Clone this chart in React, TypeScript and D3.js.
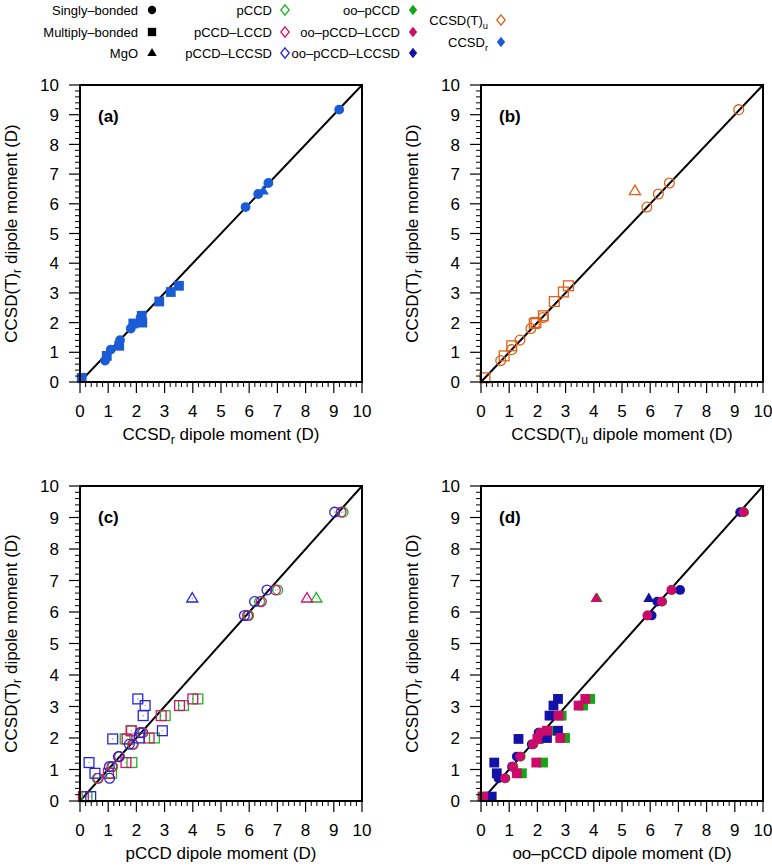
import React from "react";
import * as d3 from "d3";

// Reference CCSD(T)_r dipole moments (D), y values shared by all panels
const refSingly = [0.72, 1.09, 1.41, 1.8, 2.17, 5.89, 6.33, 6.7, 9.17];
const refMulti = [0.14, 0.88, 1.22, 1.97, 2.0, 2.23, 2.71, 3.03, 3.24];
const refMgO = [6.43];

// (a) CCSD_r
const ccsdRSingly = [0.89, 1.09, 1.42, 1.8, 2.15, 5.87, 6.32, 6.68, 9.19];
const ccsdRMulti = [0.06, 0.95, 1.39, 1.89, 2.21, 2.19, 2.81, 3.22, 3.51];
const ccsdRMgO = [6.5];

// (b) CCSD(T)_u
const ccsdtUSingly = [0.7, 1.09, 1.38, 1.77, 2.2, 5.88, 6.29, 6.68, 9.14];
const ccsdtUMulti = [0.14, 0.82, 1.09, 1.89, 1.95, 2.21, 2.6, 2.92, 3.1];
const ccsdtUMgO = [5.46];

// (c) pCCD family
const pccdSingly = [0.61, 1.16, 1.4, 1.86, 2.18, 5.98, 6.37, 7.01, 9.33];
const pccdMulti = [0.25, 1.12, 1.84, 1.6, 2.64, 1.83, 3.02, 3.67, 4.18];
const pccdMgO = [8.38];
const lccdSingly = [0.65, 1.13, 1.39, 1.89, 2.23, 5.94, 6.43, 6.93, 9.26];
const lccdMulti = [0.12, 1.01, 1.63, 1.67, 2.45, 1.81, 2.88, 3.53, 4.0];
const lccdMgO = [8.05];
const lccsdSingly = [1.05, 1.04, 1.36, 1.75, 2.13, 5.83, 6.19, 6.63, 9.03];
const lccsdMulti = [0.38, 0.53, 0.32, 1.16, 2.1, 2.92, 2.24, 2.31, 2.05];
const lccsdMgO = [3.98];

// (d) oo-pCCD family
const ooPccdSingly = [0.87, 1.15, 1.41, 1.86, 2.12, 5.92, 6.43, 6.77, 9.33];
const ooPccdMulti = [0.05, 1.45, 2.2, 2.05, 2.98, 2.4, 2.86, 3.62, 3.87];
const ooPccdMgO = [4.12];
const ooLccdSingly = [0.85, 1.13, 1.39, 1.84, 2.1, 5.9, 6.41, 6.75, 9.31];
const ooLccdMulti = [0.08, 1.27, 1.96, 2.0, 2.81, 2.34, 2.75, 3.46, 3.7];
const ooLccdMgO = [4.08];
const ooLccsdSingly = [0.62, 1.1, 1.27, 1.8, 2.04, 6.05, 6.25, 7.06, 9.19];
const ooLccsdMulti = [0.38, 0.56, 0.47, 1.33, 2.34, 2.73, 2.43, 2.57, 2.73];
const ooLccsdMgO = [5.95];

const tickValues = [0, 1, 2, 3, 4, 5, 6, 7, 8, 9, 10];

const C = {
  ccsdR: "#1c5bd6",
  ccsdtU: "#e0601a",
  green: "#22b322",
  pink: "#d1146c",
  blue: "#2626d6",
  ooGreen: "#12a812",
  ooPink: "#cc0a6a",
  navy: "#1212a6",
};

const FONT = "'Liberation Sans', Arial, Helvetica, sans-serif";
const TICK_FS = 17;
const TITLE_FS = 17;
const LEGEND_FS = 13;

type Shape = "circle" | "square" | "triangle" | "diamond";

function Marker({ shape, x, y, color, filled, s = 1, dot = false }: { shape: Shape; x: number; y: number; color: string; filled: boolean; s?: number; dot?: boolean }) {
  const fill = filled ? color : "none";
  const sw = filled ? 0 : 1.3;
  let el: React.ReactNode;
  if (shape === "circle") el = <circle cx={x} cy={y} r={4.9 * s} fill={fill} stroke={color} strokeWidth={sw} />;
  else if (shape === "square") {
    const h = 4.9 * s;
    el = <rect x={x - h} y={y - h} width={2 * h} height={2 * h} fill={fill} stroke={color} strokeWidth={sw} />;
  } else if (shape === "triangle") {
    const r = 5.9 * s;
    const pts = [
      [x, y - r],
      [x + r * 0.94, y + r * 0.6],
      [x - r * 0.94, y + r * 0.6],
    ];
    el = <polygon points={pts.map((p) => p.join(",")).join(" ")} fill={fill} stroke={color} strokeWidth={sw} />;
  } else {
    const r = 5.2 * s;
    const pts = [
      [x, y - r],
      [x + r * 0.8, y],
      [x, y + r],
      [x - r * 0.8, y],
    ];
    el = <polygon points={pts.map((p) => p.join(",")).join(" ")} fill={fill} stroke={color} strokeWidth={sw} />;
  }
  return (
    <g>
      {el}
      {dot ? <circle cx={x} cy={y} r={0.6} fill={color} opacity={0.7} /> : null}
    </g>
  );
}

type Series = { color: string; filled: boolean; singly: number[]; multi: number[]; mgo: number[] };

function Sub({ main, sub, after }: { main: string; sub: string; after?: string }) {
  return (
    <>
      <tspan>{main}</tspan>
      <tspan dy={4} fontSize="0.72em">{sub}</tspan>
      {after ? <tspan dy={-4}>{after}</tspan> : null}
    </>
  );
}

function Panel({ x0, x1, y0, y1, label, xTitle, series, id, dots = false }: { x0: number; x1: number; y0: number; y1: number; label: string; xTitle: React.ReactNode; series: Series[]; id: string; dots?: boolean }) {
  const xs = d3.scaleLinear().domain([0, 10]).range([x0, x1]);
  const ys = d3.scaleLinear().domain([0, 10]).range([y1, y0]);
  const minors = d3.range(0, 10.001, 0.2).filter((v) => Math.abs(v - Math.round(v)) > 1e-6);
  const line = d3.line<number>().x((v) => xs(v)).y((v) => ys(v));
  return (
    <g>
      <defs>
        <clipPath id={id}>
          <rect x={x0} y={y0} width={x1 - x0} height={y1 - y0} />
        </clipPath>
      </defs>
      <path d={line([0, 10]) || ""} stroke="#000" strokeWidth={2} fill="none" clipPath={`url(#${id})`} />
      {series.map((s, si) => (
        <g key={si}>
          {s.multi.map((v, i) => (
            <Marker key={"m" + i} shape="square" x={xs(v)} y={ys(refMulti[i])} color={s.color} filled={s.filled} dot={dots} />
          ))}
          {s.singly.map((v, i) => (
            <Marker key={"s" + i} shape="circle" x={xs(v)} y={ys(refSingly[i])} color={s.color} filled={s.filled} dot={dots} />
          ))}
          {s.mgo.map((v, i) => (
            <Marker key={"g" + i} shape="triangle" x={xs(v)} y={ys(refMgO[i])} color={s.color} filled={s.filled} dot={dots} />
          ))}
        </g>
      ))}
      <rect x={x0} y={y0} width={x1 - x0} height={y1 - y0} fill="none" stroke="#000" strokeWidth={2} />
      {tickValues.map((t) => (
        <g key={"t" + t}>
          <line x1={x0} x2={x0 - 11} y1={ys(t)} y2={ys(t)} stroke="#000" strokeWidth={1.2} />
          <line x1={xs(t)} x2={xs(t)} y1={y1} y2={y1 + 11} stroke="#000" strokeWidth={1.2} />
          <text x={x0 - 21} y={ys(t)} dy="0.36em" textAnchor="end" fontSize={TICK_FS}>{t}</text>
          <text x={xs(t)} y={y1 + 29} dy="0.36em" textAnchor="middle" fontSize={TICK_FS}>{t}</text>
        </g>
      ))}
      {minors.map((t, i) => (
        <g key={"n" + i}>
          <line x1={x0} x2={x0 - 5} y1={ys(t)} y2={ys(t)} stroke="#000" strokeWidth={1} />
          <line x1={xs(t)} x2={xs(t)} y1={y1} y2={y1 + 5} stroke="#000" strokeWidth={1} />
        </g>
      ))}
      <text x={x0 + 18} y={y0 + 31} dy="0.36em" fontSize={17} fontWeight="bold">{label}</text>
      <text x={(x0 + x1) / 2} y={y1 + 52} dy="0.36em" textAnchor="middle" fontSize={TITLE_FS}>{xTitle}</text>
      <text transform={`translate(${x0 - 69},${(y0 + y1) / 2}) rotate(-90)`} dy="0.36em" textAnchor="middle" fontSize={TITLE_FS}>
        <Sub main="CCSD(T)" sub="r" after=" dipole moment (D)" />
      </text>
    </g>
  );
}

const legendCol1 = ["Singly\u2013bonded", "Multiply\u2013bonded", "MgO"];
const legendCol2 = ["pCCD", "pCCD\u2013LCCD", "pCCD\u2013LCCSD"];
const legendCol3 = ["oo\u2013pCCD", "oo\u2013pCCD\u2013LCCD", "oo\u2013pCCD\u2013LCCSD"];

export default function App() {
  const rows = [10, 32, 53];
  const shapes: Shape[] = ["circle", "square", "triangle"];
  const col2Colors = [C.green, C.pink, C.blue];
  const col3Colors = [C.ooGreen, C.ooPink, C.navy];
  return (
    <svg width={772} height={867} style={{ display: "block", position: "absolute", left: 0, top: 0, background: "#fff" }} fontFamily={FONT}>
      <rect x={0} y={0} width={772} height={867} fill="#fff" />
      {legendCol1.map((t, i) => (
        <g key={"l1" + i}>
          <text x={138} y={rows[i]} dy="0.36em" textAnchor="end" fontSize={LEGEND_FS}>{t}</text>
          <Marker shape={shapes[i]} x={152} y={rows[i]} color="#000" filled={true} s={0.85} />
        </g>
      ))}
      {legendCol2.map((t, i) => (
        <g key={"l2" + i}>
          <text x={272} y={rows[i]} dy="0.36em" textAnchor="end" fontSize={LEGEND_FS}>{t}</text>
          <Marker shape="diamond" x={285} y={rows[i]} color={col2Colors[i]} filled={false} />
        </g>
      ))}
      {legendCol3.map((t, i) => (
        <g key={"l3" + i}>
          <text x={400} y={rows[i]} dy="0.36em" textAnchor="end" fontSize={LEGEND_FS}>{t}</text>
          <Marker shape="diamond" x={413} y={rows[i]} color={col3Colors[i]} filled={true} />
        </g>
      ))}
      <text x={488} y={20} dy="0.36em" textAnchor="end" fontSize={LEGEND_FS}>
        <Sub main="CCSD(T)" sub="u" />
      </text>
      <Marker shape="diamond" x={501} y={20} color={C.ccsdtU} filled={false} />
      <text x={488} y={42} dy="0.36em" textAnchor="end" fontSize={LEGEND_FS}>
        <Sub main="CCSD" sub="r" />
      </text>
      <Marker shape="diamond" x={501} y={42} color={C.ccsdR} filled={true} />

      <Panel id="ca" x0={80} x1={362} y0={85} y1={382} label="(a)"
        xTitle={<Sub main="CCSD" sub="r" after=" dipole moment (D)" />}
        series={[{ color: C.ccsdR, filled: true, singly: ccsdRSingly, multi: ccsdRMulti, mgo: ccsdRMgO }]} />
      <Panel id="cb" x0={481} x1={763} y0={85} y1={382} label="(b)"
        xTitle={<Sub main="CCSD(T)" sub="u" after=" dipole moment (D)" />}
        series={[{ color: C.ccsdtU, filled: false, singly: ccsdtUSingly, multi: ccsdtUMulti, mgo: ccsdtUMgO }]} />
      <Panel id="cc" x0={80} x1={362} y0={486} y1={801} label="(c)" dots={true}
        xTitle={"pCCD dipole moment (D)"}
        series={[
          { color: C.green, filled: false, singly: pccdSingly, multi: pccdMulti, mgo: pccdMgO },
          { color: C.pink, filled: false, singly: lccdSingly, multi: lccdMulti, mgo: lccdMgO },
          { color: C.blue, filled: false, singly: lccsdSingly, multi: lccsdMulti, mgo: lccsdMgO },
        ]} />
      <Panel id="cd" x0={481} x1={763} y0={486} y1={801} label="(d)"
        xTitle={"oo\u2013pCCD dipole moment (D)"}
        series={[
          { color: C.ooGreen, filled: true, singly: ooPccdSingly, multi: ooPccdMulti, mgo: ooPccdMgO },
          { color: C.navy, filled: true, singly: ooLccsdSingly, multi: ooLccsdMulti, mgo: ooLccsdMgO },
          { color: C.ooPink, filled: true, singly: ooLccdSingly, multi: ooLccdMulti, mgo: ooLccdMgO },
        ]} />
    </svg>
  );
}
